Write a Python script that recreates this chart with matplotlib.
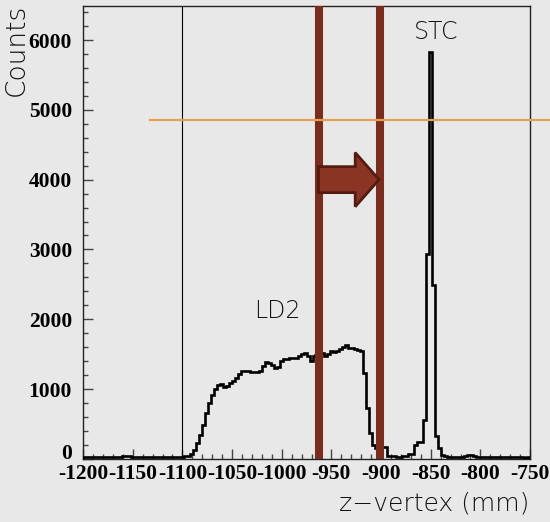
#!/usr/bin/env python3

import numpy as np
import matplotlib
matplotlib.use('Agg')
import matplotlib.pyplot as plt
from matplotlib.ticker import MultipleLocator

plt.rcParams['axes.unicode_minus'] = False

# histogram: 150 bins of 3 mm between -1200 and -750
bin_lo = -1200
bin_hi = -750
counts = [
    # -1200 .. -1101 (bins 0-32)
    20, 25, 20, 22, 25, 20, 25, 22, 20, 25,
    22, 25, 28, 35, 40, 38, 30, 25, 22, 25,
    20, 22, 25, 20, 22, 25, 28, 25, 22, 25,
    28, 30, 30,
    # rising edge of the LD2 target
    32, 35, 40, 70, 130, 230, 340, 490, 650, 800,
    920, 1000, 1065, 1070, 1030, 1045, 1080, 1120, 1165, 1220,
    1255, 1260, 1255, 1250, 1250, 1240, 1260, 1330, 1390, 1370,
    1350, 1300, 1320, 1400, 1430, 1430, 1440, 1440, 1445, 1475,
    1505, 1515, 1480, 1400, 1480, 1490, 1500, 1510, 1470, 1500,
    1550, 1525, 1550, 1570, 1600, 1635, 1590, 1585, 1580, 1560,
    1540, 1230, 730, 370, 200, 155, 150, 170, 175, 45,
    # gap between target and STC
    40, 35, 30, 32, 35, 40, 70, 75, 200, 235,
    240, 560, 2930, 5830, 2490, 330, 155, 60, 35, 30,
    # tail
    28, 25, 22, 25, 30, 40, 55, 50, 35, 28,
    25, 22, 20, 22, 25, 22, 20, 25, 22, 20,
    22, 20, 25, 22, 20, 18, 20,
]
edges = np.linspace(bin_lo, bin_hi, len(counts) + 1)

# cut lines and annotations
cut_lines = [-962, -901]
target_edge = -1100
hline_y = 4860
hline_x = [-1133, -730]
arrow_x = [-963, -902]
arrow_y = 4000
labels = {'LD2': (-1004, 2120), 'STC': (-845, 6120)}

bg = '#e8e8e8'
fig = plt.figure(figsize=(5.5, 5.22), dpi=100, facecolor=bg)
ax = fig.add_axes([0.151, 0.121, 0.8127, 0.8678], facecolor=bg)

ax.stairs(counts, edges, color='black', linewidth=1.9, zorder=3)
ax.axvline(target_edge, color='black', linewidth=0.8, zorder=2)

for x in cut_lines:
    ax.axvline(x, color='#7a2d1f', linewidth=5.8, zorder=5)

ax.plot(hline_x, [hline_y, hline_y], color='#e3a050', linewidth=1.6,
        clip_on=False, zorder=6)

ax.arrow(arrow_x[0], arrow_y, arrow_x[1] - arrow_x[0], 0, width=372,
         head_width=775, head_length=24, length_includes_head=True,
         facecolor='#8a3523', edgecolor='#561b10', linewidth=2, zorder=6)

light = dict(family='DejaVu Sans', fontweight=200, color='#111111')
for txt, (x, y) in labels.items():
    ax.text(x, y, txt, ha='center', va='center', fontsize=17, **light)

ax.set_xlim(bin_lo, bin_hi)
ax.set_ylim(0, 6490)
ax.xaxis.set_major_locator(MultipleLocator(50))
ax.xaxis.set_minor_locator(MultipleLocator(10))
ax.yaxis.set_major_locator(MultipleLocator(1000))
ax.yaxis.set_minor_locator(MultipleLocator(200))
ax.tick_params(which='both', direction='in', top=False, right=False,
               color='#444444', width=1.0)
ax.tick_params(which='major', length=7)
ax.tick_params(which='minor', length=3.8)
ax.tick_params(axis='x', which='major', pad=4)
ax.tick_params(axis='y', which='major', pad=8)
for lab in ax.get_xticklabels() + ax.get_yticklabels():
    lab.set_family('Liberation Serif')
    lab.set_fontweight('bold')
    lab.set_fontsize(15.5)
# ROOT puts the zero of the y axis just above the x labels
fig.canvas.draw()
for lab in ax.get_yticklabels():
    if lab.get_text() == '0':
        lab.set_verticalalignment('baseline')
for s in ax.spines.values():
    s.set_color('#222222')
    s.set_linewidth(1.0)

fig.text(0.030, 0.992, 'Counts', rotation=90, ha='center', va='top',
         fontsize=19, **light)
fig.text(0.962, 0.012, 'z\u2212vertex (mm)', ha='right', va='bottom',
         fontsize=18, **light)

fig.savefig('out.png', dpi=100, facecolor=bg)
